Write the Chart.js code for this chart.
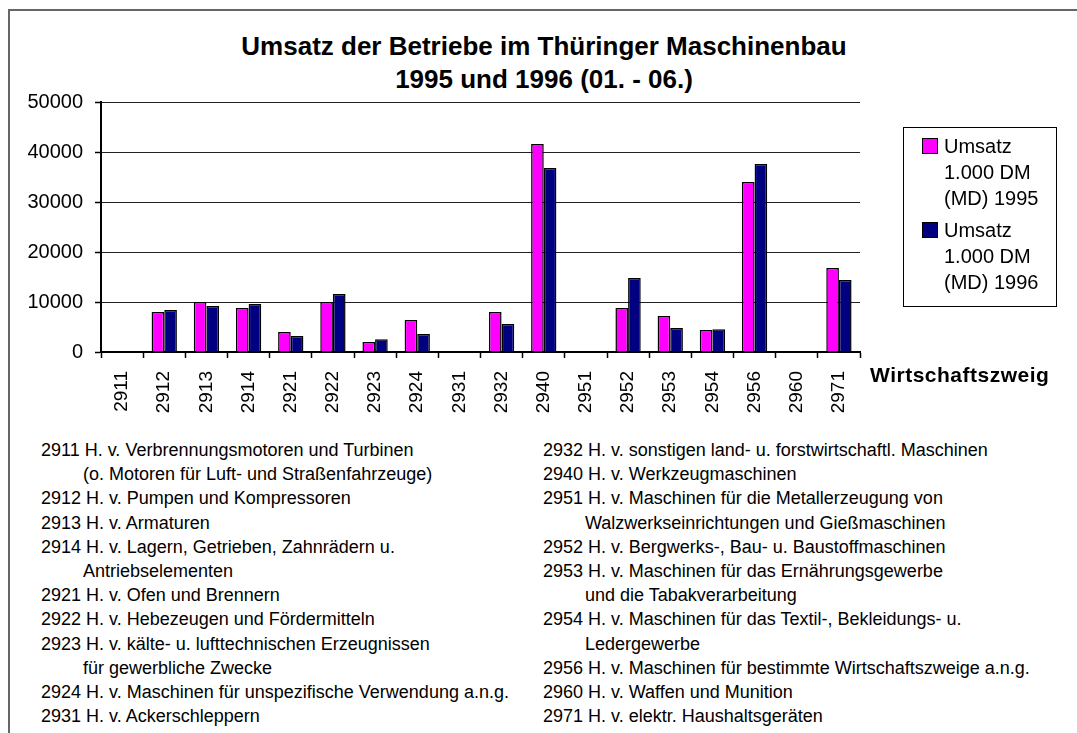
<!DOCTYPE html>
<html lang="de">
<head>
    <meta charset="UTF-8">
    <title>Umsatz der Betriebe im Thüringer Maschinenbau</title>
    <style>
        body {
            margin: 0;
            width: 1077px;
            height: 733px;
            position: relative;
            overflow: hidden;
            background: #fff;
            font-family: "Liberation Sans", Arial, sans-serif;
            color: #000;
        }
        .frame {
            position: absolute;
            left: 8px;
            top: 9px;
            right: 0;
            bottom: 0;
            border-top: 2px solid #666;
            border-left: 2px solid #666;
        }
        .chartBox {
            position: absolute;
            left: 0;
            top: 0;
            width: 1077px;
            height: 430px;
        }
        .title {
            position: absolute;
            left: 8px;
            width: 1072px;
            top: 30px;
            text-align: center;
            font-weight: bold;
            font-size: 26px;
            line-height: 33px;
        }
        .axisTitle {
            position: absolute;
            left: 870px;
            top: 363px;
            font-weight: bold;
            font-size: 21px;
            letter-spacing: 0.5px;
        }
        .legend {
            position: absolute;
            left: 903px;
            top: 127px;
            width: 152px;
            height: 178px;
            border: 1px solid #000;
            font-size: 20px;
            line-height: 26px;
        }
        .legend .item {
            position: absolute;
            left: 40px;
        }
        .legend .swatch {
            position: absolute;
            left: -22px;
            top: 5px;
            width: 14px;
            height: 14px;
            border: 1px solid #000;
        }
        .notes {
            position: absolute;
            top: 438px;
            font-size: 18px;
            line-height: 24.2px;
            white-space: nowrap;
        }
        .notes div.cont {
            padding-left: 42px;
        }
    </style>
</head>
<body>
    <div class="frame"></div>
    <div class="title">Umsatz der Betriebe im Thüringer Maschinenbau<br>1995 und 1996 (01. - 06.)</div>
    <div class="chartBox"><canvas id="umsatzChart"></canvas></div>
    <div class="axisTitle">Wirtschaftszweig</div>
    <div class="legend" id="legend"></div>
    <div class="notes" id="notesLeft" style="left: 41px;"></div>
    <div class="notes" id="notesRight" style="left: 543px;"></div>

    <script src="https://cdn.jsdelivr.net/npm/chart.js"></script>
    <script>
        // Wirtschaftszweige (WZ-Nummern)
        const zweige = ['2911', '2912', '2913', '2914', '2921', '2922', '2923', '2924', '2931',
                        '2932', '2940', '2951', '2952', '2953', '2954', '2956', '2960', '2971'];

        // Umsatz in 1.000 DM
        const umsatz1995 = [null, 8000, 10000, 8800, 4000, 10000, 2000, 6400, null,
                            8000, 41600, null, 8800, 7200, 4400, 34000, null, 16800];
        const umsatz1996 = [null, 8400, 9200, 9600, 3200, 11600, 2550, 3600, null,
                            5600, 36800, null, 14800, 4800, 4550, 37600, null, 14400];

        const serienNamen = [
            ['Umsatz', '1.000 DM', '(MD) 1995'],
            ['Umsatz', '1.000 DM', '(MD) 1996']
        ];
        const serienFarben = ['#ff00ff', '#000080'];

        const yTicks = [0, 10000, 20000, 30000, 40000, 50000];

        // Legende unter dem Diagramm (Zeile, eingerückt?)
        const notizenLinks = [
            ['2911 H. v. Verbrennungsmotoren und Turbinen', false],
            ['(o. Motoren für Luft- und Straßenfahrzeuge)', true],
            ['2912 H. v. Pumpen und Kompressoren', false],
            ['2913 H. v. Armaturen', false],
            ['2914 H. v. Lagern, Getrieben, Zahnrädern u.', false],
            ['Antriebselementen', true],
            ['2921 H. v. Ofen und Brennern', false],
            ['2922 H. v. Hebezeugen und Fördermitteln', false],
            ['2923 H. v. kälte- u. lufttechnischen Erzeugnissen', false],
            ['für gewerbliche Zwecke', true],
            ['2924 H. v. Maschinen für unspezifische Verwendung a.n.g.', false],
            ['2931 H. v. Ackerschleppern', false]
        ];
        const notizenRechts = [
            ['2932 H. v. sonstigen land- u. forstwirtschaftl. Maschinen', false],
            ['2940 H. v. Werkzeugmaschinen', false],
            ['2951 H. v. Maschinen für die Metallerzeugung von', false],
            ['Walzwerkseinrichtungen und Gießmaschinen', true],
            ['2952 H. v. Bergwerks-, Bau- u. Baustoffmaschinen', false],
            ['2953 H. v. Maschinen für das Ernährungsgewerbe', false],
            ['und die Tabakverarbeitung', true],
            ['2954 H. v. Maschinen für das Textil-, Bekleidungs- u.', false],
            ['Ledergewerbe', true],
            ['2956 H. v. Maschinen für bestimmte Wirtschaftszweige  a.n.g.', false],
            ['2960 H. v. Waffen und Munition', false],
            ['2971 H. v. elektr. Haushaltsgeräten', false]
        ];

        Chart.defaults.font.family = '"Liberation Sans", Arial, sans-serif';
        Chart.defaults.color = '#000';

        const ctx = document.getElementById('umsatzChart').getContext('2d');
        new Chart(ctx, {
            type: 'bar',
            data: {
                labels: zweige,
                datasets: [
                    {
                        label: serienNamen[0].join(' '),
                        data: umsatz1995,
                        backgroundColor: serienFarben[0],
                        borderColor: '#000',
                        borderWidth: 1.5,
                        borderSkipped: 'bottom'
                    },
                    {
                        label: serienNamen[1].join(' '),
                        data: umsatz1996,
                        backgroundColor: serienFarben[1],
                        borderColor: '#000',
                        borderWidth: 1.5,
                        borderSkipped: 'bottom'
                    }
                ]
            },
            options: {
                responsive: true,
                maintainAspectRatio: false,
                animation: false,
                layout: { padding: { top: 102, right: 217, bottom: 0, left: 0 } },
                categoryPercentage: 0.6,
                barPercentage: 1.0,
                plugins: {
                    legend: { display: false },
                    title: { display: false },
                    tooltip: { enabled: false }
                },
                scales: {
                    x: {
                        grid: {
                            display: true,
                            drawOnChartArea: false,
                            drawTicks: true,
                            tickLength: 6,
                            tickColor: '#000',
                            tickWidth: 1.5,
                            offset: true
                        },
                        border: { display: true, color: '#000', width: 2 },
                        ticks: {
                            autoSkip: false,
                            minRotation: 90,
                            maxRotation: 90,
                            padding: 13,
                            font: { size: 19 }
                        },
                        afterFit: s => { s.height = 78; }
                    },
                    y: {
                        min: 0,
                        max: 50000,
                        afterBuildTicks: s => { s.ticks = yTicks.map(v => ({ value: v })); },
                        grid: {
                            color: '#222',
                            lineWidth: 1,
                            tickLength: 6,
                            tickColor: '#000',
                            tickWidth: 1.5
                        },
                        border: { display: true, color: '#000', width: 2 },
                        ticks: {
                            padding: 12,
                            font: { size: 20 },
                            callback: v => String(v)
                        },
                        afterFit: s => { s.width = 101; }
                    }
                }
            }
        });

        // Legende
        const legend = document.getElementById('legend');
        const startY = [5, 89];
        serienNamen.forEach((zeilen, i) => {
            const item = document.createElement('div');
            item.className = 'item';
            item.style.top = startY[i] + 'px';
            const sw = document.createElement('span');
            sw.className = 'swatch';
            sw.style.background = serienFarben[i];
            item.appendChild(sw);
            zeilen.forEach(z => {
                const d = document.createElement('div');
                d.textContent = z;
                item.appendChild(d);
            });
            legend.appendChild(item);
        });

        // Erläuterungen
        function notizen(id, liste) {
            const box = document.getElementById(id);
            liste.forEach(([text, eingerueckt]) => {
                const d = document.createElement('div');
                d.textContent = text;
                if (eingerueckt) d.className = 'cont';
                box.appendChild(d);
            });
        }
        notizen('notesLeft', notizenLinks);
        notizen('notesRight', notizenRechts);
    </script>
</body>
</html>
